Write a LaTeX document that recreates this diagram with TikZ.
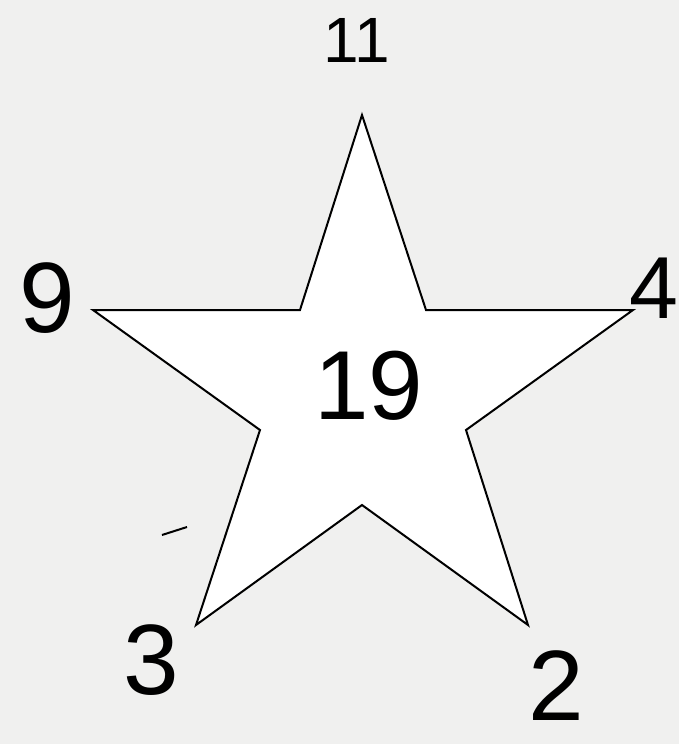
\documentclass[tikz,border=0pt]{standalone}
\usepackage{fontspec}
\setmainfont{Liberation Sans}
\definecolor{bg}{HTML}{F0F0EF}
\tikzset{
  num/.style={inner sep=0pt, text=black},
  starline/.style={draw=black, line width=2pt, fill=white, line join=miter}
}
\begin{document}
\begin{tikzpicture}[x=1pt,y=-1pt]
\fill[bg] (0,0) rectangle (679,744);
\useasboundingbox (0,0) rectangle (679,744);
\draw[starline] (362,115) -- (426,310) -- (633,310) -- (466,430) -- (528,625)
  -- (362,505) -- (196,625) -- (260,430) -- (93,310) -- (300,310) -- cycle;
\node[num, font=\fontsize{64}{64}\selectfont] (top) at (357,40) {11};
\node[num, font=\fontsize{98}{98}\selectfont] (center) at (369,386) {19};
\node[num, font=\fontsize{100}{100}\selectfont] (left) at (47,298) {9};
\node[num, font=\fontsize{88}{88}\selectfont] (right) at (654,288) {4};
\node[num, font=\fontsize{100}{100}\selectfont] (bl) at (151,660) {3};
\node[num, font=\fontsize{100}{100}\selectfont] (br) at (556,686) {2};
\draw[line width=2pt] (162,535) -- (187,527);
\end{tikzpicture}
\end{document}
